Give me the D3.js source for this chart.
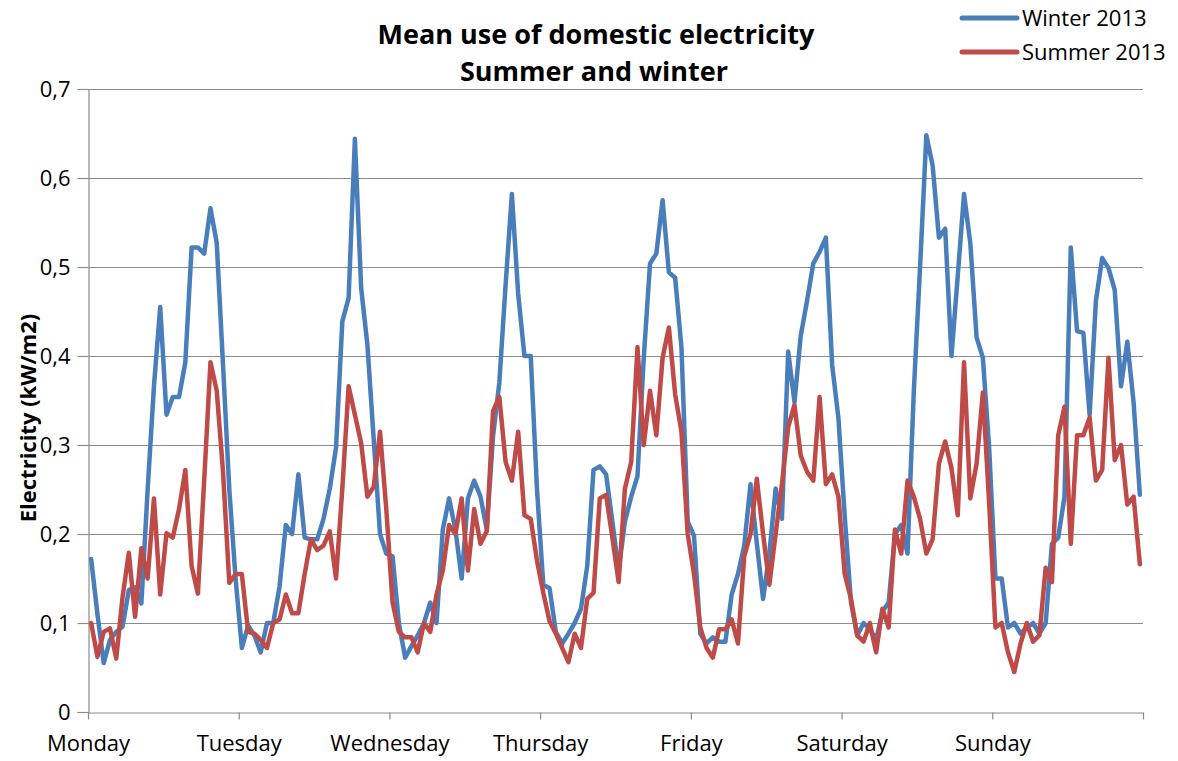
<!DOCTYPE html>
<html>
<head>
<meta charset="utf-8">
<script src="https://cdn.jsdelivr.net/npm/d3@7"></script>
<style>
  html, body { margin: 0; padding: 0; background: #ffffff; }
  svg { display: block; }
  text { font-family: "Open Sans", "DejaVu Sans", sans-serif; fill: #000; }
</style>
</head>
<body>
<svg id="chart" width="1178" height="761"></svg>
<script>
// Hourly mean electricity use (kW/m2), Monday 00h .. Sunday 23h
const days = ["Monday", "Tuesday", "Wednesday", "Thursday", "Friday", "Saturday", "Sunday"];
const yTicks = [0, 0.1, 0.2, 0.3, 0.4, 0.5, 0.6, 0.7];
const seriesNames = ["Winter 2013", "Summer 2013"];

const winter2013 = [
  // Monday
  0.172, 0.110, 0.055, 0.081, 0.090, 0.096, 0.137, 0.140, 0.122, 0.250, 0.366, 0.455,
  0.334, 0.354, 0.354, 0.393, 0.522, 0.522, 0.515, 0.566, 0.527, 0.390, 0.250, 0.150,
  // Tuesday
  0.072, 0.097, 0.086, 0.067, 0.100, 0.100, 0.141, 0.210, 0.200, 0.267, 0.196, 0.194,
  0.194, 0.217, 0.251, 0.297, 0.439, 0.465, 0.644, 0.476, 0.412, 0.306, 0.200, 0.178,
  // Wednesday
  0.175, 0.100, 0.061, 0.074, 0.086, 0.100, 0.123, 0.100, 0.205, 0.240, 0.205, 0.150,
  0.240, 0.260, 0.242, 0.205, 0.310, 0.370, 0.480, 0.582, 0.470, 0.400, 0.400, 0.250,
  // Thursday
  0.143, 0.139, 0.090, 0.077, 0.088, 0.100, 0.116, 0.164, 0.272, 0.276, 0.267, 0.214,
  0.159, 0.214, 0.242, 0.265, 0.398, 0.504, 0.515, 0.575, 0.494, 0.488, 0.410, 0.214,
  // Friday
  0.198, 0.088, 0.077, 0.084, 0.079, 0.079, 0.132, 0.155, 0.187, 0.256, 0.190, 0.127,
  0.178, 0.251, 0.217, 0.405, 0.348, 0.423, 0.462, 0.504, 0.517, 0.533, 0.390, 0.330,
  // Saturday
  0.220, 0.123, 0.086, 0.100, 0.093, 0.081, 0.113, 0.123, 0.200, 0.210, 0.178, 0.360,
  0.500, 0.648, 0.614, 0.533, 0.543, 0.400, 0.490, 0.582, 0.527, 0.421, 0.398, 0.297,
  // Sunday
  0.150, 0.150, 0.095, 0.100, 0.088, 0.095, 0.100, 0.088, 0.100, 0.189, 0.196, 0.242,
  0.522, 0.428, 0.426, 0.334, 0.462, 0.510, 0.499, 0.474, 0.366, 0.416, 0.348, 0.244
];

const summer2013 = [
  // Monday
  0.100, 0.062, 0.090, 0.094, 0.060, 0.129, 0.179, 0.107, 0.184, 0.150, 0.240, 0.132,
  0.201, 0.196, 0.228, 0.272, 0.164, 0.133, 0.260, 0.393, 0.361, 0.270, 0.145, 0.155,
  // Tuesday
  0.155, 0.090, 0.088, 0.081, 0.072, 0.100, 0.104, 0.132, 0.111, 0.111, 0.155, 0.194,
  0.182, 0.187, 0.203, 0.150, 0.251, 0.366, 0.334, 0.302, 0.242, 0.253, 0.315, 0.228,
  // Wednesday
  0.123, 0.090, 0.084, 0.084, 0.067, 0.100, 0.090, 0.132, 0.159, 0.210, 0.200, 0.240,
  0.159, 0.228, 0.189, 0.203, 0.338, 0.354, 0.281, 0.260, 0.315, 0.221, 0.217, 0.170,
  // Thursday
  0.134, 0.102, 0.088, 0.072, 0.056, 0.088, 0.072, 0.127, 0.134, 0.240, 0.244, 0.196,
  0.146, 0.251, 0.281, 0.410, 0.300, 0.361, 0.311, 0.398, 0.432, 0.357, 0.315, 0.200,
  // Friday
  0.155, 0.095, 0.072, 0.061, 0.093, 0.093, 0.104, 0.077, 0.175, 0.200, 0.262, 0.200,
  0.143, 0.200, 0.256, 0.320, 0.345, 0.288, 0.270, 0.260, 0.354, 0.256, 0.267, 0.242,
  // Saturday
  0.155, 0.127, 0.086, 0.079, 0.100, 0.067, 0.116, 0.095, 0.205, 0.178, 0.260, 0.242,
  0.217, 0.178, 0.194, 0.279, 0.304, 0.274, 0.221, 0.393, 0.240, 0.279, 0.359, 0.235,
  // Sunday
  0.095, 0.100, 0.067, 0.045, 0.077, 0.100, 0.079, 0.086, 0.162, 0.146, 0.311, 0.343,
  0.189, 0.311, 0.311, 0.331, 0.260, 0.272, 0.398, 0.283, 0.300, 0.233, 0.242, 0.166
];

const colors = ["#4a7ebb", "#be4b48"];
const hoursPerDay = 24;

const svg = d3.select("#chart");
const plot = { left: 88, right: 1143, top: 89, bottom: 712 };

svg.append("rect").attr("width", 1178).attr("height", 761).attr("fill", "#fff");

// category axis: one slot per hour, points centred in their slot
const x = d3.scaleLinear()
  .domain([0, days.length * hoursPerDay])
  .range([plot.left, plot.right]);
const y = d3.scaleLinear().domain([0, 0.7]).range([plot.bottom, plot.top]);

const commaLocale = d3.formatLocale({ decimal: ",", thousands: ".", grouping: [3], currency: ["", ""] });
const fmt1 = commaLocale.format(".1f");
const yFormat = v => (v === 0 ? "0" : fmt1(v));

// horizontal gridlines
svg.append("g")
  .selectAll("line")
  .data(yTicks.filter(v => v > 0))
  .join("line")
  .attr("x1", plot.left).attr("x2", plot.right)
  .attr("y1", d => Math.round(y(d)) + 0.5).attr("y2", d => Math.round(y(d)) + 0.5)
  .attr("stroke", "#8c8c8c").attr("stroke-width", 1.2);

// y axis
const yAxis = svg.append("g")
  .attr("transform", `translate(${plot.left + 0.5},0)`)
  .call(d3.axisLeft(y).tickValues(yTicks).tickFormat(yFormat).tickSize(11).tickPadding(7));
yAxis.select(".domain").attr("stroke", "#8c8c8c").attr("stroke-width", 1.2);
yAxis.selectAll(".tick line").attr("stroke", "#8c8c8c").attr("stroke-width", 1.2);
yAxis.selectAll(".tick text").style("font-size", "22px").attr("dy", "0.36em");

// x axis with day boundaries
const dayTicks = d3.range(0, days.length + 1).map(d => d * hoursPerDay);
const xAxis = svg.append("g")
  .attr("transform", `translate(0,${Math.round(plot.bottom) + 0.5})`)
  .call(d3.axisBottom(x)
    .tickValues(dayTicks)
    .tickFormat(d => days[d / hoursPerDay] || "")
    .tickSize(7).tickSizeOuter(0).tickPadding(16));
xAxis.select(".domain").attr("stroke", "#8c8c8c").attr("stroke-width", 1.2);
xAxis.selectAll(".tick line").attr("stroke", "#8c8c8c").attr("stroke-width", 1.2);
xAxis.selectAll(".tick text").style("font-size", "22px");

// series lines
const line = d3.line()
  .x((d, i) => x(i + 0.5))
  .y(d => y(d));

[winter2013, summer2013].forEach((values, k) => {
  svg.append("path")
    .datum(values)
    .attr("fill", "none")
    .attr("stroke", colors[k])
    .attr("stroke-width", 4.5)
    .attr("stroke-linejoin", "round")
    .attr("stroke-linecap", "round")
    .attr("d", line);
});

// title
const title = svg.append("text")
  .attr("text-anchor", "middle")
  .style("font-size", "27px")
  .style("font-weight", "bold");
title.append("tspan").attr("x", 596).attr("y", 44).text("Mean use of domestic electricity");
title.append("tspan").attr("x", 594).attr("y", 81).text("Summer and winter");

// y axis title
svg.append("text")
  .attr("transform", "translate(36,418) rotate(-90)")
  .attr("text-anchor", "middle")
  .style("font-size", "22px")
  .style("font-weight", "bold")
  .text("Electricity (kW/m2)");

// legend
const legend = svg.append("g");
seriesNames.forEach((name, k) => {
  const ly = 18 + k * 34;
  legend.append("line")
    .attr("x1", 962).attr("x2", 1017)
    .attr("y1", ly).attr("y2", ly)
    .attr("stroke", colors[k]).attr("stroke-width", 5)
    .attr("stroke-linecap", "round");
  legend.append("text")
    .attr("x", 1022).attr("y", ly)
    .attr("dy", "0.35em")
    .style("font-size", "22px")
    .text(name);
});
</script>
</body>
</html>
